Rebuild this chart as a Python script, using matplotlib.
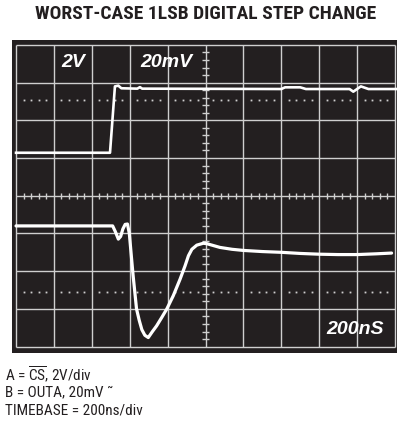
import numpy as np
import matplotlib
matplotlib.use("Agg")
import matplotlib.pyplot as plt

# scope trace A: CS (2V/div), in divisions from screen centre
a_x = [0, 2.48, 2.61, 2.70, 2.78, 3.20, 3.27, 3.33, 7.00, 7.10, 7.50, 7.65,
       8.80, 8.90, 9.10, 9.30, 10.05]
a_y = [1.14, 1.14, 2.90, 2.92, 2.85, 2.84, 2.88, 2.84, 2.83, 2.875, 2.875, 2.83,
       2.83, 2.76, 2.90, 2.83, 2.83]

# scope trace B: OUTA (20mV/div)
b_x = [0, 2.55, 2.62, 2.70, 2.76, 2.82, 2.88, 2.94, 2.99, 3.05, 3.09, 3.18,
       3.25, 3.32, 3.40, 3.49, 3.60, 3.71, 3.85, 3.98, 4.15, 4.33, 4.46, 4.55,
       4.64, 4.77, 4.94, 5.03, 5.38, 5.70, 6.00, 6.50, 7.00, 7.50, 8.00, 8.50,
       9.00, 9.50, 9.91]
b_y = [-0.80, -0.80, -0.95, -1.15, -1.08, -0.88, -0.76, -0.75, -1.00, -1.68,
       -2.12, -3.00, -3.30, -3.55, -3.70, -3.76, -3.60, -3.45, -3.22, -3.00,
       -2.65, -2.21, -1.86, -1.59, -1.42, -1.31, -1.26, -1.27, -1.37, -1.42,
       -1.45, -1.48, -1.50, -1.53, -1.55, -1.56, -1.56, -1.54, -1.52]

title = "WORST-CASE 1LSB DIGITAL STEP CHANGE"
notes = [r"A = $\overline{\mathrm{CS}}$, 2V/div",
         "B = OUTA, 20mV \u02dc",
         "TIMEBASE = 200ns/div"]
note_y = [375, 392.5, 411]

narrow = ["Roboto Condensed", "Open Sans Condensed", "Liberation Sans"]
plt.rcParams["mathtext.fontset"] = "custom"
plt.rcParams["mathtext.rm"] = "Roboto Condensed"

grid_col = "#cfcfcf"
screen = "#231f20"

fig = plt.figure(figsize=(4.05, 4.35), dpi=100)
ax = fig.add_axes([12 / 405, 81 / 435, 385 / 405, 313 / 435])
ax.set_facecolor(screen)
ax.set_xlim(-0.106, 10.053)
ax.set_ylim(-4.17, 4.13)
for s in ax.spines.values():
    s.set_visible(False)
ax.set_xticks([])
ax.set_yticks([])

# graticule
ax.vlines(range(11), -4, 4, color=grid_col, lw=1.0)
ax.hlines(range(-4, 5), 0, 10, color=grid_col, lw=1.0)

fine = np.array([k * 0.2 for k in range(51) if k % 5 != 0])
fine_y = np.array([k * 0.2 - 4 for k in range(41) if k % 5 != 0])
for yy in (2.55, -2.55):
    ax.plot(fine, np.full(len(fine), yy), ls="none", marker="s", ms=1.3,
            mfc=grid_col, mec="none")
ax.vlines(fine, -0.08, 0.08, color=grid_col, lw=1.0)
ax.hlines(fine_y, 4.92, 5.08, color=grid_col, lw=1.0)

# traces
ax.plot(a_x, a_y, color="white", lw=1.9, solid_joinstyle="round")
ax.plot(b_x, b_y, color="white", lw=2.3, solid_joinstyle="round",
        solid_capstyle="round")

lab = dict(color="white", fontsize=14, fontweight="bold", fontstyle="italic",
           va="center", ha="left", family=["Liberation Sans", "DejaVu Sans"])
ax.text(1.2, 3.55, "2V", **lab)
ax.text(3.27, 3.55, "20mV", **lab)
ax.text(8.2, -3.53, "200nS", **lab)

fig.text(206 / 405, 1 - 14 / 435, title, ha="center", va="center",
         fontsize=14, fontweight="bold", color="#231f20", family=narrow)

for line, yy in zip(notes, note_y):
    fig.text(5 / 405, 1 - yy / 435, line, ha="left", va="center",
             fontsize=11, color="#231f20", family=narrow)

fig.savefig("out.png", dpi=100)
